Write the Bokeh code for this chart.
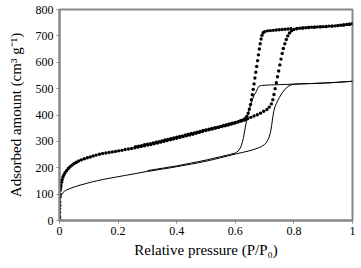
from bokeh.plotting import figure
from bokeh.models import Range1d, FixedTicker, NumeralTickFormatter
from bokeh.embed import file_html
from bokeh.resources import INLINE

# ---- data ----
# Sample A (dotted markers) adsorption branch
dot_ads_p = [0.0, 0.0001, 0.0002, 0.0004, 0.0006, 0.0008, 0.001, 0.0015, 0.002, 0.003, 0.004, 0.005,
             0.007, 0.009, 0.012, 0.015, 0.019, 0.024, 0.03, 0.036, 0.043, 0.05, 0.058, 0.066, 0.075,
             0.085, 0.095, 0.105, 0.115, 0.125, 0.136, 0.147, 0.158, 0.169, 0.180, 0.191, 0.202, 0.213,
             0.224, 0.235, 0.246, 0.257, 0.268, 0.279, 0.290, 0.301, 0.312, 0.323, 0.334, 0.345, 0.356,
             0.367, 0.378, 0.389, 0.400, 0.411, 0.422, 0.433, 0.444, 0.455, 0.466, 0.477, 0.488, 0.499,
             0.510, 0.521, 0.532, 0.543, 0.554, 0.565, 0.576, 0.587, 0.598, 0.609, 0.620, 0.631, 0.642,
             0.653, 0.664, 0.675, 0.686, 0.697, 0.708, 0.716, 0.723, 0.728, 0.732, 0.736, 0.740, 0.744,
             0.748, 0.752, 0.756, 0.760, 0.764, 0.769, 0.774, 0.779, 0.785, 0.792, 0.800, 0.810, 0.820,
             0.830, 0.840, 0.850, 0.860, 0.870, 0.880, 0.890, 0.900, 0.910, 0.920, 0.930, 0.940, 0.950,
             0.960, 0.970, 0.980, 0.990, 1.000]
dot_ads_v = [0, 8, 16, 30, 45, 58, 70, 88, 100, 115, 125, 133,
             145, 155, 165, 173, 181, 189, 197, 204, 210, 216, 221, 226, 230,
             234, 238, 241, 245, 248, 251, 254, 256, 258, 260, 262, 264, 266,
             269, 271, 273, 276, 278, 281, 283, 286, 288, 291, 294, 297, 300,
             303, 306, 309, 312, 315, 318, 321, 324, 327, 331, 334, 337, 341,
             344, 347, 350, 353, 356, 359, 362, 366, 369, 373, 377, 381, 386,
             391, 396, 401, 407, 414, 421, 430, 442, 458, 478, 500, 522, 545,
             567, 590, 612, 633, 652, 670, 686, 700, 711, 719, 724, 727, 729,
             730, 731, 732, 733, 733, 734, 735, 735, 736, 737, 737, 738, 739,
             740, 741, 743, 744, 746]

# Sample A (dotted markers) desorption branch
dot_des_p = [0.99, 0.97, 0.95, 0.93, 0.91, 0.89, 0.87, 0.85, 0.83, 0.81, 0.79, 0.78, 0.77, 0.76,
             0.75, 0.74, 0.73, 0.72, 0.71, 0.700, 0.695, 0.691, 0.688, 0.685, 0.682, 0.679, 0.676,
             0.673, 0.670, 0.667, 0.664, 0.661, 0.658, 0.655, 0.652, 0.648, 0.644, 0.639, 0.633,
             0.626, 0.618, 0.610, 0.600, 0.590, 0.580, 0.570, 0.560, 0.550, 0.540, 0.530, 0.520,
             0.510, 0.500, 0.490, 0.480, 0.470, 0.460, 0.450, 0.440, 0.430, 0.420, 0.410, 0.400,
             0.390, 0.380, 0.370, 0.360, 0.350, 0.340, 0.330, 0.320, 0.310, 0.300, 0.290, 0.280,
             0.270, 0.260]
dot_des_v = [744, 741, 739, 737, 735, 734, 733, 732, 730, 728, 727, 726, 725, 724,
             723, 722, 721, 720, 719, 716, 712, 702, 688, 670, 650, 628, 606,
             584, 562, 540, 518, 497, 477, 458, 440, 422, 407, 395, 386,
             381, 378, 375, 372, 369, 366, 363, 360, 357, 354, 352, 349,
             346, 343, 341, 338, 335, 332, 330, 327, 324, 321, 319, 316,
             313, 310, 307, 305, 302, 299, 297, 294, 291, 289, 287, 284,
             282, 280]

# Sample B (solid line) adsorption branch
line_ads_p = [0, 0.0005, 0.001, 0.002, 0.003, 0.005, 0.008, 0.012, 0.017, 0.025, 0.035, 0.05,
              0.07, 0.09, 0.11, 0.13, 0.15, 0.175, 0.2, 0.225, 0.25, 0.275, 0.3, 0.325, 0.35,
              0.375, 0.4, 0.425, 0.45, 0.475, 0.5, 0.525, 0.55, 0.575, 0.6, 0.62, 0.64, 0.66,
              0.68, 0.69, 0.70, 0.705, 0.71, 0.715, 0.72, 0.724, 0.728, 0.732, 0.736, 0.74,
              0.745, 0.75, 0.76, 0.77, 0.78, 0.79, 0.8, 0.82, 0.85, 0.9, 0.95, 1.0]
line_ads_v = [0, 30, 55, 75, 85, 93, 100, 106, 111, 116, 121, 127,
              134, 140, 146, 151, 156, 161, 166, 171, 176, 181, 186, 190, 195,
              199, 204, 209, 214, 219, 225, 231, 238, 245, 252, 257, 262, 268,
              276, 281, 288, 294, 303, 315, 333, 360, 392, 418, 433, 443,
              455, 466, 484, 498, 508, 514, 517, 518, 519, 521, 524, 528]

# Sample B (solid line) desorption branch
line_des_p = [1.0, 0.95, 0.9, 0.85, 0.8, 0.75, 0.72, 0.7, 0.69, 0.685, 0.68, 0.676, 0.672, 0.668,
              0.664, 0.66, 0.656, 0.652, 0.648, 0.644, 0.64, 0.636, 0.632, 0.628, 0.624, 0.62,
              0.615, 0.61, 0.605, 0.6, 0.58, 0.55, 0.5, 0.45, 0.4, 0.35, 0.3]
line_des_v = [528, 524, 521, 519, 517, 515, 514, 513, 512, 511, 508, 500, 490, 482,
              475, 463, 451, 438, 422, 405, 387, 365, 340, 315, 296, 282,
              271, 264, 259, 256, 250, 242, 229, 218, 207, 198, 189]

x_ticks = [0, 0.2, 0.4, 0.6, 0.8, 1]
y_ticks = [0, 100, 200, 300, 400, 500, 600, 700, 800]

# ---- figure ----
GRAY = "#878787"
FONT = "Liberation Serif"

p = figure(width=358, height=266, output_backend="svg", toolbar_location=None,
           x_range=Range1d(0, 1), y_range=Range1d(0, 800),
           min_border_left=59, min_border_right=6, min_border_top=9, min_border_bottom=46)
p.background_fill_color = "white"
p.border_fill_color = "white"
p.outline_line_color = GRAY
p.outline_line_width = 2
p.xgrid.visible = False
p.ygrid.visible = False

for ax in (p.xaxis[0], p.yaxis[0]):
    ax.axis_line_color = GRAY
    ax.axis_line_width = 2
    ax.major_tick_line_color = GRAY
    ax.major_tick_in = 0
    ax.major_tick_out = 3
    ax.minor_tick_line_color = None
    ax.major_label_text_font = FONT
    ax.major_label_text_font_size = "12px"
    ax.major_label_text_color = "black"
    ax.axis_label_text_font = FONT
    ax.axis_label_text_font_size = "15px"
    ax.axis_label_text_font_style = "normal"
    ax.axis_label_text_color = "black"

p.xaxis.ticker = FixedTicker(ticks=x_ticks)
p.yaxis.ticker = FixedTicker(ticks=y_ticks)
p.xaxis.formatter = NumeralTickFormatter(format="0.[0]")
p.xaxis.major_label_standoff = 3
p.yaxis.major_label_standoff = 3
p.xaxis.axis_label = "Relative pressure (P/P\u2080)"
p.yaxis.axis_label = "Adsorbed amount (cm\u00b3 g\u207b\u00b9)"
p.xaxis.axis_label_standoff = 4
p.yaxis.axis_label_standoff = 9

# solid-line sample
p.line(line_ads_p, line_ads_v, line_color="black", line_width=1)
p.line(line_des_p, line_des_v, line_color="black", line_width=1)

# dotted sample
p.scatter(dot_ads_p, dot_ads_v, size=3.4, fill_color="black", line_color=None)
p.scatter(dot_des_p, dot_des_v, size=3.4, fill_color="black", line_color=None)

open("out.html", "w").write(file_html(p, INLINE))
